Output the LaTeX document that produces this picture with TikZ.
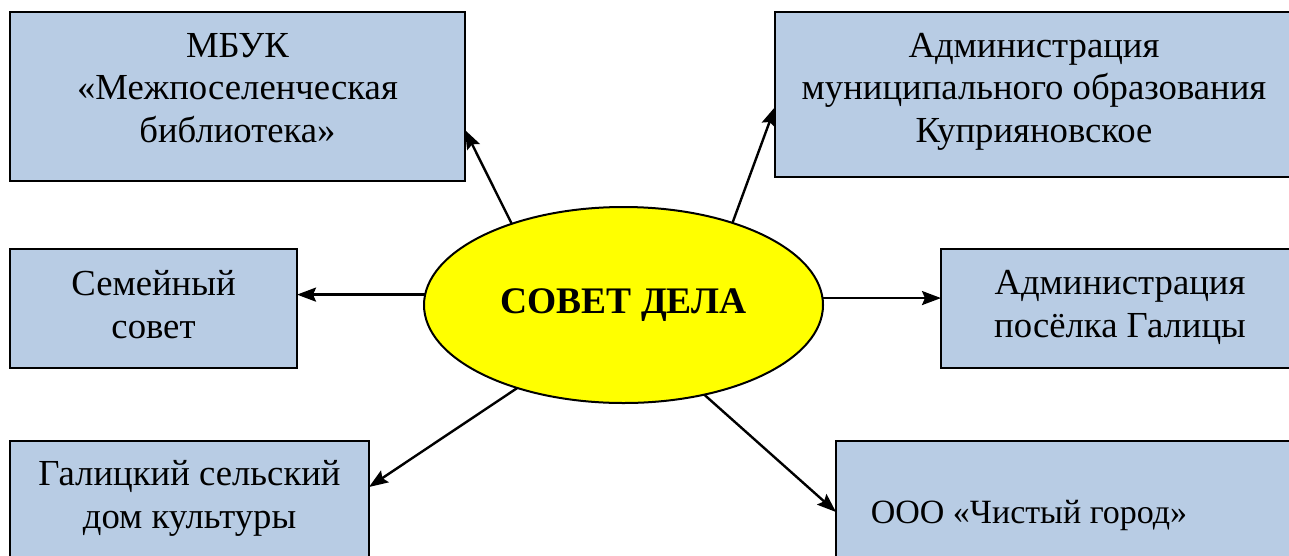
\documentclass[tikz,border=0pt]{standalone}
\usepackage{fontspec}
\setmainfont{Liberation Serif}
\usetikzlibrary{shapes.geometric,arrows.meta,calc}
\definecolor{boxblue}{HTML}{B8CCE4}
\definecolor{ellyellow}{HTML}{FFFF00}
\tikzset{
  box/.style={draw=black, line width=2.2pt, fill=boxblue, rectangle, inner sep=0pt, outer sep=0pt},
  txt/.style={font=\fontsize{36.7}{42.5}\selectfont, align=center, inner sep=0pt, anchor=base},
  conn/.style={line width=2.4pt, -{Stealth[length=19pt,width=14pt,inset=3pt]}},
  hub/.style={ellipse, draw=black, line width=2pt, fill=ellyellow, inner sep=0pt, outer sep=0pt,
    minimum width=399pt, minimum height=196pt, font=\fontsize{37.5}{44}\selectfont\bfseries}
}
\begin{document}
\begin{tikzpicture}[x=1pt,y=-1pt]
\useasboundingbox (0,0) rectangle (1289,555);
\clip (0,0) rectangle (1289,555);
\fill[white] (0,0) rectangle (1289,555);
% boxes
\node[box, minimum width=455pt, minimum height=169pt] (mbuk) at (237.5,96.5) {};
\node[box, minimum width=518pt, minimum height=165pt] (admmo) at (1034,94.5) {};
\node[box, minimum width=287pt, minimum height=119pt] (sem) at (153.5,308.5) {};
\node[box, minimum width=358pt, minimum height=119pt] (pos) at (1120,308.5) {};
\node[box, minimum width=359pt, minimum height=179pt] (gal) at (189.5,530.5) {};
\node[box, minimum width=464pt, minimum height=179pt] (ooo) at (1068,530.5) {};
% texts (anchor = baseline of last line)
\node[txt] (tmbuk) at (237.5,142) {МБУК\\«Межпоселенческая\\библиотека»};
\node[txt] (tadmmo) at (1034,142) {Администрация\\муниципального образования\\Куприяновское};
\node[txt] (tsem) at (153.5,338) {Семейный\\совет};
\node[txt] (tpos) at (1120,337) {Администрация\\посёлка Галицы};
\node[txt] (tgal) at (189.5,528) {Галицкий сельский\\дом культуры};
\node[txt, font=\fontsize{34}{40}\selectfont] (tooo) at (1029,523) {ООО «Чистый город»};
% hub
\node[hub] (sov) at (623.5,305) {СОВЕТ ДЕЛА};
% connectors
\coordinate (emb) at ($(mbuk.north east)+(0,118)$);
\coordinate (eam) at ($(admmo.north west)+(0,95)$);
\coordinate (ega) at ($(gal.north east)+(0,46)$);
\coordinate (eoo) at ($(ooo.north west)+(0,71)$);
\draw[conn] (sov.144.3) -- (emb);
\draw[conn] (sov.37.8) -- (eam);
\draw[conn] (sov.177.6) -- (sov.177.6 -| sem.east);
\draw[conn] (sov.2.4) -- (sov.2.4 -| pos.west);
\draw[conn] (sov.218.2) -- (ega);
\draw[conn] (sov.312.4) -- (eoo);
\end{tikzpicture}
\end{document}
